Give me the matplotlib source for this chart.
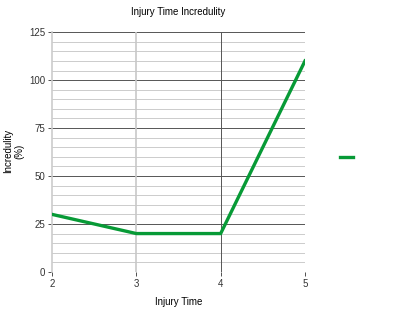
import matplotlib
matplotlib.use("Agg")
import matplotlib.pyplot as plt
from matplotlib.lines import Line2D

plt.rcParams["font.family"] = ["Liberation Sans", "DejaVu Sans"]

injury_time = [2, 3, 4, 5]
incredulity = [30, 20, 20, 110]

line_color = "#079a36"

fig = plt.figure(figsize=(4, 3.09), dpi=100)
ax = fig.add_axes([0.13, 0.12, 0.6325, 0.776])

# grid lines
for v in range(0, 126, 5):
    if v % 25 == 0:
        ax.axhline(v, color="#555555", lw=0.7, zorder=1)
    else:
        ax.axhline(v, color="#cccccc", lw=0.7, zorder=1)
ax.axvline(3, color="#c8c8c8", lw=1.2, zorder=1)
ax.axvline(4, color="#555555", lw=0.7, zorder=1)

ax.plot(injury_time, incredulity, color=line_color, lw=2.4, zorder=3,
        solid_joinstyle="miter")

ax.set_xlim(2, 5)
ax.set_ylim(0, 125)
ax.set_xticks(injury_time)
ax.set_yticks([0, 25, 50, 75, 100, 125])
ax.tick_params(labelsize=7, length=3, width=0.6, colors="#333333", pad=2)
for s in ax.spines.values():
    s.set_visible(False)
ax.spines["left"].set_visible(True)
ax.spines["left"].set_color("#cccccc")
ax.spines["left"].set_linewidth(1.2)

ax.set_title("Injury Time Incredulity", fontsize=7, pad=12)
ax.set_xlabel("Injury Time", fontsize=7, labelpad=6)
fig.text(14 / 400, 0.51, "Incredulity\n(%)", fontsize=7, rotation=90,
         ha="center", va="center", linespacing=1.1, multialignment="center")

fig.legend(handles=[Line2D([0], [0], color=line_color, lw=2.4)], labels=[""],
           loc="center", bbox_to_anchor=(0.88, 0.49), frameon=False,
           handlelength=0.9)

fig.savefig("out.png", dpi=100)
